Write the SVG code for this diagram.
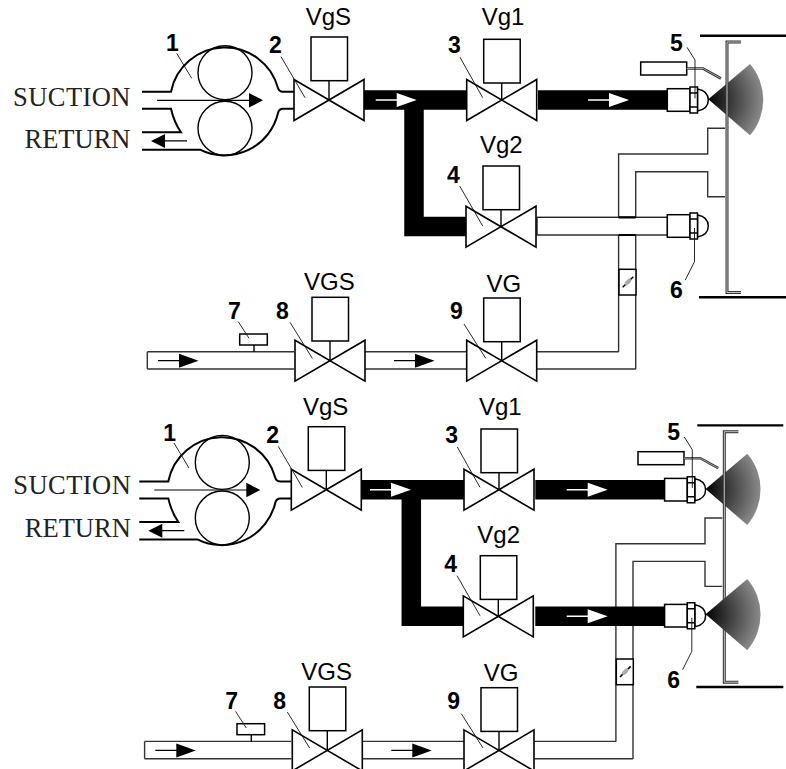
<svg xmlns="http://www.w3.org/2000/svg" width="786" height="769" viewBox="0 0 786 769">
<style>
.num{font:bold 23px "Liberation Sans",Arial,sans-serif;fill:#000}
.tag{font:24px "Liberation Sans",Arial,sans-serif;fill:#000}
.word{font:26.5px "Liberation Serif","Times New Roman",serif;fill:#222}
.lead{fill:none;stroke:#111;stroke-width:.9}
.hull{fill:none;stroke:#000;stroke-width:2}
.thin{fill:none;stroke:#000;stroke-width:1.4}
.vbody{fill:#fff;stroke:#000;stroke-width:1.6;stroke-linejoin:miter}
.box{fill:#fff;stroke:#000;stroke-width:1.5}
.gas{fill:none;stroke:#333;stroke-width:1.4}
.oil{fill:none;stroke:#000;stroke-width:19.5}
</style>
<defs>
<radialGradient id="spray" gradientUnits="userSpaceOnUse" cx="0" cy="0" r="55">
<stop offset="0" stop-color="#000"/><stop offset="1" stop-color="#8a8a8a"/>
</radialGradient>
<g id="valve">
<path class="vbody" d="M-35 -20.5L35 20.5V-20.5L-35 20.5Z"/>
<path class="thin" d="M0 -20V0"/>
</g>
<rect id="act" class="box" x="-18" y="-43.7" width="36.5" height="43.7"/>
<g id="nozzle">
<rect class="box" x="0" y="-11.3" width="22.7" height="22.6"/>
<path class="box" d="M30.2 -11Q41 -9 41 0Q41 9 30.2 11Z"/>
<path class="box" d="M22.7 -13H30.2V13H22.7ZM22.7 -7H30.2M22.7 7H30.2"/>
</g>
<path id="cone" fill="url(#spray)" d="M0 0L41.7 -35.3A54.6 54.6 0 0 1 41.7 36Z"/>
<g id="wall">
<path d="M741 42H727V292.5H741" fill="none" stroke="#333" stroke-width="3"/>
<path d="M741 42H727V292.5H741" fill="none" stroke="#c4c4c4" stroke-width="1"/>
<path d="M700 35.7H786M699 297.3H786" fill="none" stroke="#000" stroke-width="2.4"/>
</g>
<g id="igniter">
<rect class="box" x="640.7" y="62" width="46" height="13"/>
<path d="M686.7 68.5H703L721 78.5" fill="none" stroke="#333" stroke-width="2.6"/>
<path d="M686.7 68.5H703L721 78.5" fill="none" stroke="#bbb" stroke-width=".8"/>
</g>
<g id="damper">
<rect class="box" x="619" y="269.3" width="17" height="25.7"/>
<path d="M622.7 287.3L633.3 276.7" stroke="#000" stroke-width="1.6"/>
<ellipse cx="628" cy="282" rx="4" ry="2.2" transform="rotate(-45 628 282)" fill="#aaa"/>
</g>
<path id="white-arrow" fill="#fff" d="M0 -.8H21V-7L41 0L21 7V.8H0Z"/>
<path id="black-arrow" fill="#000" d="M0 -.6H21V-7L40.5 0L21 7V.6H0Z"/>
<g id="pump-shape">
<path class="hull" d="M142 91.7H171A55 55 0 0 1 278 88Q279 91.7 283 91.7H294M294 108.7H283Q279 108.7 278 113A55 55 0 0 1 200 149.7H142M142 108.7H171Q174 122 181 132.3H142"/>
<circle class="thin" cx="225" cy="72.7" r="27"/>
<circle class="thin" cx="225" cy="128.3" r="27"/>
<path d="M157 99.7H249V93L263 100.3L249 107.5V100.9H157Z" fill="#000"/>
<path d="M187 140.3H165V134L151 141L165 148V141.5H187Z" fill="#000"/>
</g>
</defs>

<g id="connectors">
<path class="gas" d="M618.6 352V154H707.7V128.3H725M635.7 369.3V171.7H707.7V196.7H725"/>
<path class="gas" d="M147.3 351.7H294M147.3 369H294M147.3 351.7V369M365 351.7H467M365 369H467M537 351.7H618.6M537 369H635.7"/>
<path class="oil" d="M364 100H468M538 100H667.5M414 100V226.5H468"/>
<rect x="537" y="217.3" width="130.5" height="17.7" fill="#fff" stroke="#222" stroke-width="1.4"/>
<path d="M618.6 217.3H635.7M618.6 235H635.7" stroke="#000" stroke-width="2.2"/>
<use href="#white-arrow" x="375.7" y="100"/>
<use href="#white-arrow" x="588" y="100"/>
<use href="#black-arrow" x="158" y="360.7"/>
<use href="#black-arrow" x="394" y="360.7"/>
<g transform="translate(-2.7 389.7)">
<path class="gas" d="M618.6 352V154H707.7V128.3H725M635.7 369.3V171.7H707.7V196.7H725"/>
<path class="gas" d="M147.3 351.7H294M147.3 369H294M147.3 351.7V369M365 351.7H467M365 369H467M537 351.7H618.6M537 369H635.7"/>
<path class="oil" d="M364 100H468M538 100H667.5M538 226.5H667.5M414 100V226.5H468"/>
<use href="#white-arrow" x="372.7" y="100"/>
<use href="#white-arrow" x="569.4" y="100"/>
<use href="#white-arrow" x="569.4" y="226.5"/>
<use href="#black-arrow" x="158" y="360.7"/>
<use href="#black-arrow" x="394" y="360.7"/>
</g>
</g>

<g id="upper-pump"><use href="#pump-shape"/>
<text class="word" x="13" y="106" textLength="117.5">SUCTION</text><text class="word" x="24.5" y="148">RETURN</text>
<text class="num" x="166" y="51">1</text><path class="lead" d="M176.7 53.3L191.7 78.3"/></g>
<g id="upper-valve-2"><use href="#valve" x="329" y="100"/><use href="#act" x="329" y="80.7"/><text class="tag" x="305.7" y="25">VgS</text>
<text class="num" x="269" y="53">2</text><path class="lead" d="M281 56.7L305 97.7"/></g>
<g id="upper-valve-3"><use href="#valve" x="501.7" y="100"/><use href="#act" x="501.7" y="83"/><text class="tag" x="481.7" y="25">Vg1</text>
<text class="num" x="448" y="53.3">3</text><path class="lead" d="M460 57.3L482.7 97.7"/></g>
<g id="upper-valve-4"><use href="#valve" x="501" y="226.7"/><use href="#act" x="501" y="209.7"/><text class="tag" x="480" y="153.3">Vg2</text>
<text class="num" x="447" y="182.7">4</text><path class="lead" d="M459.7 186L482.7 226"/></g>
<g id="upper-nozzle-5"><use href="#cone" x="708.3" y="99.3"/><use href="#nozzle" x="667.3" y="100"/><use href="#igniter"/>
<text class="num" x="670" y="50.7">5</text><path class="lead" d="M687 47.3L695 60V98.3"/></g>
<g id="upper-nozzle-6"><use href="#nozzle" x="667.3" y="226"/>
<text class="num" x="670" y="298">6</text><path class="lead" d="M694.5 228V261.7L685.3 280"/></g>
<g id="upper-wall"><use href="#wall"/></g>
<g id="upper-damper"><use href="#damper"/></g>
<g id="upper-valve-8"><use href="#valve" x="330" y="360.7"/><use href="#act" x="330" y="341"/><text class="tag" x="304" y="290">VGS</text>
<text class="num" x="276" y="319">8</text><path class="lead" d="M290 322.3L312.3 358.3"/></g>
<g id="upper-valve-9"><use href="#valve" x="501.7" y="360.7"/><use href="#act" x="501.7" y="341.7"/><text class="tag" x="486.5" y="291.7">VG</text>
<text class="num" x="450" y="319">9</text><path class="lead" d="M464 324L485.7 358.3"/></g>
<g id="upper-gauge-7"><path class="thin" d="M254 345V352"/><rect class="box" x="239.7" y="334" width="27.6" height="11"/>
<text class="num" x="228" y="319">7</text><path class="lead" d="M238.3 321.7L249 338.3"/></g>

<g transform="translate(-2.7 389.7)">
<g id="lower-pump"><use href="#pump-shape"/>
<text class="word" x="16" y="104.5" textLength="117.5">SUCTION</text><text class="word" x="27.5" y="147">RETURN</text>
<text class="num" x="166" y="51">1</text><path class="lead" d="M176.7 53.3L191.7 78.3"/></g>
<g id="lower-valve-2"><use href="#valve" x="329" y="100"/><use href="#act" x="329" y="80.7"/><text class="tag" x="305.7" y="25">VgS</text>
<text class="num" x="269" y="53">2</text><path class="lead" d="M281 56.7L305 97.7"/></g>
<g id="lower-valve-3"><use href="#valve" x="501.7" y="100"/><use href="#act" x="501.7" y="83"/><text class="tag" x="481.7" y="25">Vg1</text>
<text class="num" x="448" y="53.3">3</text><path class="lead" d="M460 57.3L482.7 97.7"/></g>
<g id="lower-valve-4"><use href="#valve" x="501" y="226.7"/><use href="#act" x="501" y="209.7"/><text class="tag" x="480" y="153.3">Vg2</text>
<text class="num" x="447" y="182.7">4</text><path class="lead" d="M459.7 186L482.7 226"/></g>
<g id="lower-nozzle-5"><use href="#cone" x="708.3" y="99.3"/><use href="#nozzle" x="667.3" y="100"/><use href="#igniter"/>
<text class="num" x="670" y="50.7">5</text><path class="lead" d="M687 47.3L695 60V98.3"/></g>
<g id="lower-wall"><use href="#wall"/></g>
<g id="lower-nozzle-6"><use href="#cone" x="708.3" y="224.5"/><use href="#nozzle" x="667.3" y="226"/>
<text class="num" x="670" y="298">6</text><path class="lead" d="M694.5 228V261.7L685.3 280"/></g>
<g id="lower-damper"><use href="#damper"/></g>
<g id="lower-valve-8"><use href="#valve" x="330" y="360.7"/><use href="#act" x="330" y="341"/><text class="tag" x="304" y="290">VGS</text>
<text class="num" x="276" y="319">8</text><path class="lead" d="M290 322.3L312.3 358.3"/></g>
<g id="lower-valve-9"><use href="#valve" x="501.7" y="360.7"/><use href="#act" x="501.7" y="341.7"/><text class="tag" x="486.5" y="291.7">VG</text>
<text class="num" x="450" y="319">9</text><path class="lead" d="M464 324L485.7 358.3"/></g>
<g id="lower-gauge-7"><path class="thin" d="M254 345V352"/><rect class="box" x="239.7" y="334" width="27.6" height="11"/>
<text class="num" x="228" y="319">7</text><path class="lead" d="M238.3 321.7L249 338.3"/></g>
</g>
</svg>
